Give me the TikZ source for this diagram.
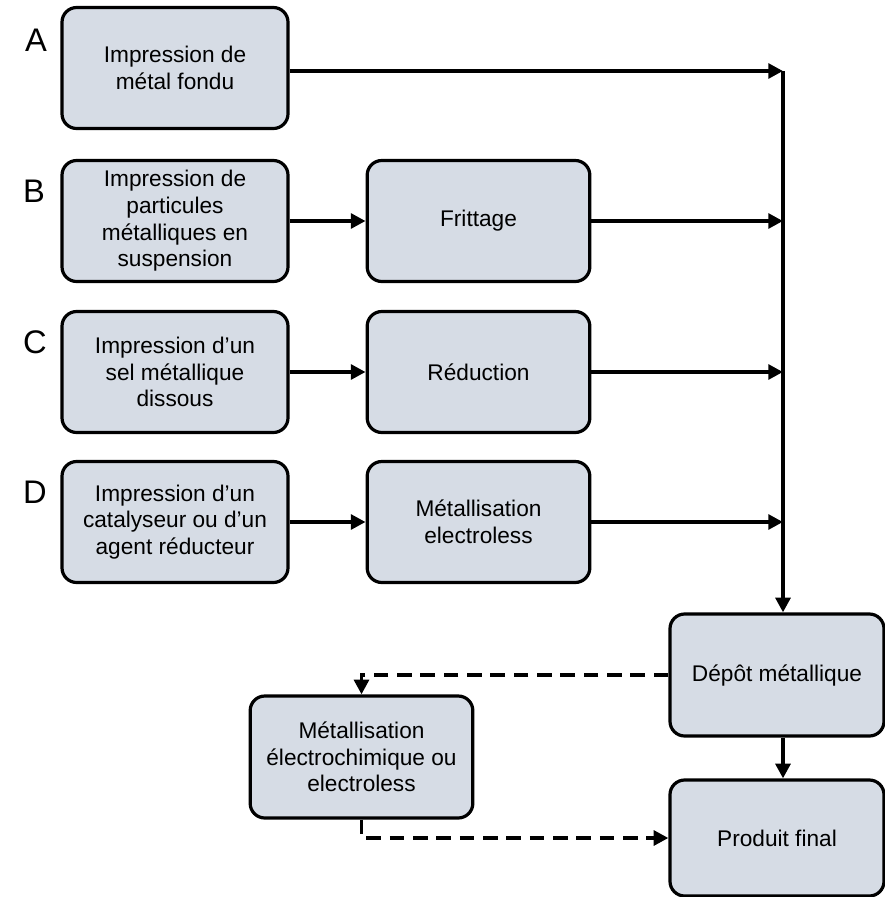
\documentclass[tikz,border=0pt]{standalone}
\usepackage{fontspec}
\setmainfont{Liberation Sans}
\usetikzlibrary{arrows.meta}
\definecolor{boxfill}{RGB}{214,220,229}
\begin{document}
\begin{tikzpicture}[x=0.75pt,y=-0.75pt,
  procbox/.style={draw=black, line width=2.4pt, fill=boxfill, rounded corners=11pt,
    align=center, inner sep=2pt, font=\fontsize{17}{20}\selectfont},
  leftbox/.style={procbox, minimum width=169.5pt, minimum height=90.75pt},
  midbox/.style={procbox, minimum width=167pt, minimum height=90.75pt},
  letter/.style={font=\fontsize{24.5}{28}\selectfont, inner sep=0pt},
  flow/.style={line width=2.8pt, -{Triangle[length=11pt,width=11pt]}},
  flowdash/.style={flow, dash pattern=on 11pt off 6.5pt}
]
\useasboundingbox (0,0) rectangle (885,897);

% letters
\node[letter] (la) at (36,40) {A};
\node[letter] (lb) at (34,191) {B};
\node[letter] (lc) at (35,342) {C};
\node[letter] (ld) at (35,492) {D};

% left column
\node[leftbox] (a) at (175,68) {Impression de\\métal fondu};
\node[leftbox] (b) at (175,221) {Impression de\\particules\\métalliques en\\suspension};
\node[leftbox] (c) at (175,372) {Impression d’un\\sel métallique\\dissous};
\node[leftbox] (d) at (175,522) {Impression d’un\\catalyseur ou d’un\\agent réducteur};

% middle column
\node[midbox] (fr) at (478.5,221) {Frittage};
\node[midbox] (re) at (478.5,372) {Réduction};
\node[midbox] (me) at (478.5,522) {Métallisation\\electroless};

% bottom
\node[procbox, minimum width=160.5pt, minimum height=91.5pt] (dep) at (777,675) {Dépôt métallique};
\node[procbox, minimum width=160.5pt, minimum height=87pt] (prod) at (777,838) {Produit final};
\node[procbox, minimum width=167pt, minimum height=91.5pt] (mec) at (361.5,757) {Métallisation\\électrochimique ou\\electroless};

% collector line
\coordinate (ja) at (783,71);
\coordinate (jb) at (783,221);
\coordinate (jc) at (783,372);
\coordinate (jd) at (783,522);

\draw[flow] (a.east |- ja) -- (ja);
\draw[flow] (b.east) -- (fr.west);
\draw[flow] (c.east) -- (re.west);
\draw[flow] (d.east) -- (me.west);
\draw[flow] (fr.east) -- (jb);
\draw[flow] (re.east) -- (jc);
\draw[flow] (me.east) -- (jd);
\draw[flow] (ja) -- (ja |- dep.north);
\draw[flow] (dep.south -| ja) -- (prod.north -| ja);

% dashed connectors
\draw[flowdash] (dep.west) -| (mec.north);
\draw[flowdash] (mec.south) |- (prod.west);
\end{tikzpicture}
\end{document}
